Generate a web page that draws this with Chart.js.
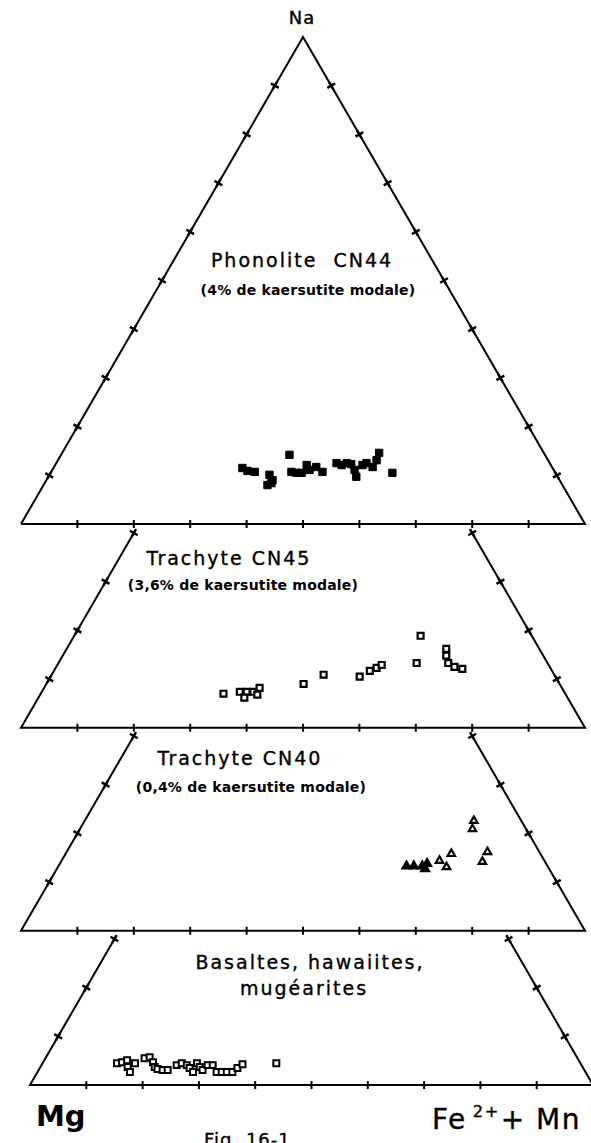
<!DOCTYPE html>
<html><head><meta charset="utf-8">
<script src="https://cdn.jsdelivr.net/npm/chart.js@4"></script>
<style>
html,body{margin:0;padding:0;background:#fff;}
body{width:591px;height:1143px;overflow:hidden;position:relative;}
canvas{position:absolute;left:0;}
.t{position:absolute;font-family:"DejaVu Sans",sans-serif;color:#000;white-space:pre;line-height:1;transform:translate(-50%,-50%);-webkit-text-stroke:0.35px #000;}
.ttl{font-size:19px;letter-spacing:2px;}
.sub{font-size:14px;font-weight:bold;letter-spacing:0.2px;-webkit-text-stroke:0;}
sup{font-size:58%;vertical-align:0.75em;margin-left:6px;margin-right:1px;}
</style></head><body>

<div class="t" style="left:302px;top:18px;font-size:18px;letter-spacing:1px;">Na</div>
<div class="t ttl" style="left:302px;top:260px;">Phonolite  CN44</div>
<div class="t sub" style="left:308px;top:290px;">(4% de kaersutite modale)</div>
<div class="t ttl" style="left:229px;top:558px;">Trachyte CN45</div>
<div class="t sub" style="left:243px;top:585px;">(3,6% de kaersutite modale)</div>
<div class="t ttl" style="left:240px;top:758px;">Trachyte CN40</div>
<div class="t sub" style="left:251px;top:787px;">(0,4% de kaersutite modale)</div>
<div class="t ttl" style="left:310px;top:962px;">Basaltes, hawaiites,</div>
<div class="t ttl" style="left:304px;top:988px;">mugéarites</div>
<div class="t" style="left:36px;top:1102px;transform:none;font-size:29px;font-weight:bold;-webkit-text-stroke:0;">Mg</div>
<div class="t" style="left:432px;top:1104px;transform:none;font-size:28px;letter-spacing:1.5px;">Fe<sup>2+</sup>+ Mn</div>
<div class="t" style="left:204px;top:1131px;transform:none;font-size:18px;letter-spacing:1px;">Fig. 16-1</div>

<canvas id="p1"></canvas>
<canvas id="p2"></canvas>
<canvas id="p3"></canvas>
<canvas id="p4"></canvas>

<script>
// ---- DATA (ternary compositions, % : Na and Fe2+ + Mn; Mg = 100 - Na - Fe) ----
const tickValues = [10, 20, 30, 40, 50, 60, 70, 80, 90];

// Phonolite CN44 (filled squares)
const cn44Na = [11.5,10.9,10.7,10.1,8.4,9.0,8.0,14.2,10.7,10.5,10.5,12.1,11.1,11.7,10.7,12.5,12.1,12.5,12.3,9.7,11.1,12.1,12.5,14.6,13.1,11.7,10.5];
const cn44Fe = [33.5,34.7,36.1,39.0,40.2,40.1,39.7,40.5,42.6,43.6,44.5,44.6,45.6,46.5,48.1,49.7,50.8,51.5,52.4,54.6,53.6,54.5,55.0,56.2,56.5,56.5,60.6];

// Trachyte CN45 (open squares)
const cn45Na = [7.0,7.4,7.4,7.4,8.2,6.2,6.8,9.0,10.9,10.5,11.7,12.3,12.9,13.3,18.9,16.2,14.8,13.3,12.5,12.1];
const cn45Fe = [32.4,35.1,36.3,37.5,38.2,36.5,38.5,45.6,48.2,54.8,56.0,56.9,57.5,63.5,61.4,67.3,68.0,69.1,70.6,72.2];

// Trachyte CN40 (filled and open triangles)
const cn40FilledNa = [13.3,13.3,13.3,13.8,12.7];
const cn40FilledFe = [61.7,63.0,64.5,65.1,65.3];
const cn40OpenNa = [14.4,13.1,15.8,14.2,16.2,20.9,22.6];
const cn40OpenFe = [67.0,68.9,68.4,74.7,74.6,69.6,69.0];

// Basaltes, hawaiites, mugéarites (open squares)
const basNa = [4.5,4.7,5.1,3.7,2.7,4.5,5.5,5.7,4.7,3.7,3.3,3.1,3.1,4.1,4.5,4.1,3.5,2.7,4.5,3.7,3.1,4.1,4.1,2.7,2.7,2.7,2.7,3.5,4.3,4.5];
const basFe = [13.2,14.0,14.7,15.5,16.4,16.4,17.6,18.4,19.5,20.3,21.0,22.0,22.9,24.0,24.7,25.8,26.6,27.6,27.4,28.3,29.1,29.5,30.4,31.8,32.7,33.6,34.6,35.1,35.6,41.5];

// Na range shown by each panel
const panelNaMax = [100, 40, 40, 30];

// ---- LAYOUT ----
const BASE_W = 564;     // px for 100 % along the base
const NA_H = 487;       // px for 100 % Na
const CANVAS_W = 600;
const PAD = 12;
const layout = [
  {id: 'p1', left: 21, base: 524},
  {id: 'p2', left: 21, base: 728},
  {id: 'p3', left: 21, base: 931},
  {id: 'p4', left: 30, base: 1085}
];

// ternary -> cartesian (x: 0 = Mg corner, 100 = Fe corner; y = Na)
function toXY(na, fe) { return {x: fe + na / 2, y: na}; }
function pts(naArr, feArr) { return naArr.map((n, i) => toXY(n, feArr[i])); }

function panelDatasets(naMax, series) {
  const outline = naMax >= 100
    ? [toXY(0, 0), toXY(100, 0), toXY(0, 100), toXY(0, 0)]
    : [toXY(naMax, 0), toXY(0, 0), toXY(0, 100), toXY(naMax, 100 - naMax)];
  const sideVals = tickValues.filter(v => v <= naMax);
  const ds = series.slice();
  ds.push({
    data: outline, showLine: true, borderColor: '#000', borderWidth: 2,
    pointRadius: 0, tension: 0, fill: false, order: 10, clip: false
  });
  ds.push({
    data: tickValues.map(v => toXY(0, v)), pointStyle: 'line', rotation: 90,
    pointRadius: 4, borderColor: '#000', borderWidth: 2, order: 9, clip: false
  });
  ds.push({
    data: sideVals.map(v => toXY(v, 0)), pointStyle: 'cross', rotation: 30,
    pointRadius: 4.5, borderColor: '#000', borderWidth: 2.5, order: 9, clip: false
  });
  ds.push({
    data: sideVals.map(v => toXY(v, 100 - v)), pointStyle: 'cross', rotation: -30,
    pointRadius: 4.5, borderColor: '#000', borderWidth: 2.5, order: 9, clip: false
  });
  return ds;
}

const seriesByPanel = [
  [{data: pts(cn44Na, cn44Fe), pointStyle: 'rect', pointRadius: 5.2,
    backgroundColor: '#000', borderColor: '#000', borderWidth: 1, clip: false}],
  [{data: pts(cn45Na, cn45Fe), pointStyle: 'rect', pointRadius: 4.2,
    backgroundColor: '#fff', borderColor: '#000', borderWidth: 2.2, clip: false}],
  [{data: pts(cn40OpenNa, cn40OpenFe), pointStyle: 'triangle', pointRadius: 4.3,
    backgroundColor: '#fff', borderColor: '#000', borderWidth: 2.2, clip: false},
   {data: pts(cn40FilledNa, cn40FilledFe), pointStyle: 'triangle', pointRadius: 4.8,
    backgroundColor: '#000', borderColor: '#000', borderWidth: 2, clip: false}],
  [{data: pts(basNa, basFe), pointStyle: 'rect', pointRadius: 4.2,
    backgroundColor: '#fff', borderColor: '#000', borderWidth: 2, clip: false}]
];

layout.forEach((p, i) => {
  const naMax = panelNaMax[i];
  const areaH = naMax / 100 * NA_H;
  const cv = document.getElementById(p.id);
  const h = Math.round(areaH + 2 * PAD);
  cv.width = CANVAS_W; cv.height = h;
  cv.style.width = CANVAS_W + 'px'; cv.style.height = h + 'px';
  cv.style.top = (p.base - areaH - PAD) + 'px';
  new Chart(cv, {
    type: 'scatter',
    data: {datasets: panelDatasets(naMax, seriesByPanel[i])},
    options: {
      responsive: false, animation: false, events: [],
      devicePixelRatio: 1,
      layout: {padding: {left: p.left, right: CANVAS_W - p.left - BASE_W,
                         top: PAD, bottom: h - PAD - areaH}},
      plugins: {legend: {display: false}, tooltip: {enabled: false}, title: {display: false}},
      scales: {
        x: {type: 'linear', min: 0, max: 100, display: false},
        y: {type: 'linear', min: 0, max: naMax, display: false}
      }
    }
  });
});
</script>
</body></html>
